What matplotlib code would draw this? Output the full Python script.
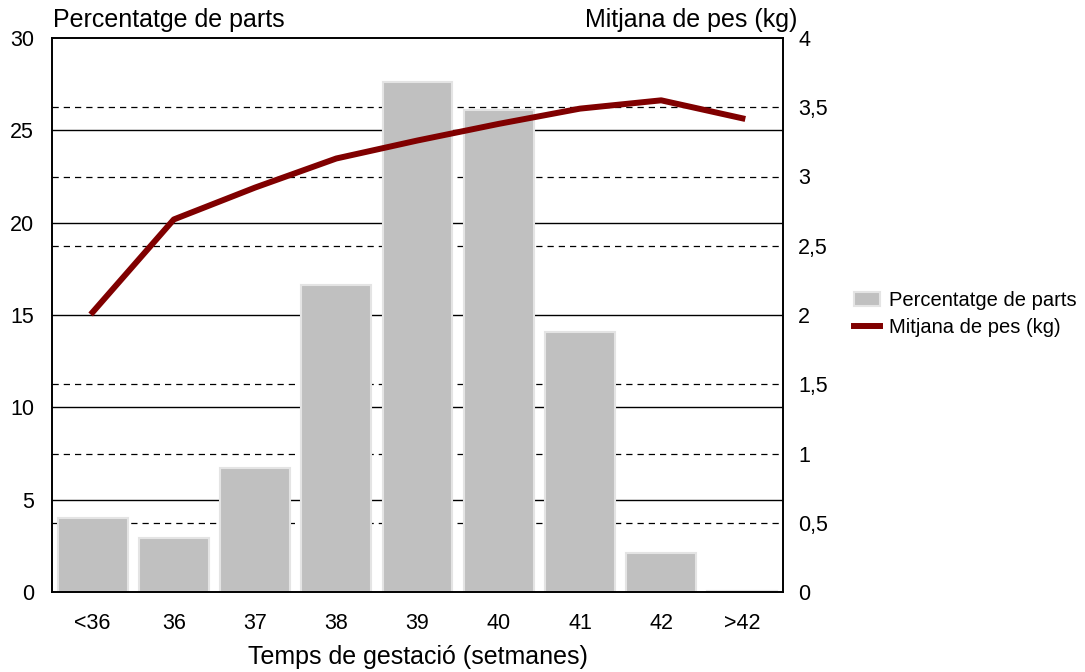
import numpy as np
import matplotlib.pyplot as plt

plt.rcParams['font.family'] = ['Liberation Sans', 'DejaVu Sans']

categories = ["<36", "36", "37", "38", "39", "40", "41", "42", ">42"]
parts_pct = [4.0, 2.9, 6.7, 16.6, 27.6, 26.1, 14.1, 2.1, 0.05]
mean_weight = [2.02, 2.69, 2.92, 3.13, 3.26, 3.38, 3.49, 3.55, 3.42]

fig = plt.figure(figsize=(10.85, 6.72), dpi=100)
ax = fig.add_axes([52 / 1085, 1 - 592 / 672, 731 / 1085, 554 / 672])
ax2 = ax.twinx()

x = np.arange(len(categories))

# grid lines: solid for left axis, dashed for right axis
for v in [5, 10, 15, 20, 25]:
    ax.axhline(v, color='black', lw=1, zorder=0)
for v in [0.5, 1, 1.5, 2.5, 3, 3.5]:
    ax.axhline(v * 7.5, color='black', lw=0.9, ls=(0, (5, 4)), zorder=0)

ax.bar(x, parts_pct, width=0.86, color='#c0c0c0', edgecolor='#e4e4e4',
       linewidth=1.5, zorder=2, label='Percentatge de parts')
ax2.plot(x, mean_weight, color='#800000', lw=4.3, zorder=3,
         label='Mitjana de pes (kg)')

ax.set_xlim(-0.5, len(categories) - 0.5)
ax.set_ylim(0, 30)
ax2.set_ylim(0, 4)
ax.set_xticks(x)
ax.set_xticklabels(categories)
ax.set_yticks([0, 5, 10, 15, 20, 25, 30])
ax2.set_yticks([0, 0.5, 1, 1.5, 2, 2.5, 3, 3.5, 4])
ax2.set_yticklabels(["0", "0,5", "1", "1,5", "2", "2,5", "3", "3,5", "4"])

ax.tick_params(axis='x', length=0, labelsize=15.5, pad=15)
ax.tick_params(axis='y', length=0, labelsize=15.5, pad=13)
ax2.tick_params(axis='y', length=0, labelsize=15.5, pad=11)

for a in (ax, ax2):
    for s in a.spines.values():
        s.set_linewidth(1.2)

ax.set_xlabel("Temps de gestació (setmanes)", fontsize=18, labelpad=8)
fig.text(53 / 1085, 1 - 20 / 672, "Percentatge de parts", fontsize=18,
         va='center', ha='left')
fig.text(797 / 1085, 1 - 20 / 672, "Mitjana de pes (kg)", fontsize=18,
         va='center', ha='right')

h1, l1 = ax.get_legend_handles_labels()
h2, l2 = ax2.get_legend_handles_labels()
fig.legend(h1 + h2, l1 + l2, loc='center left', bbox_to_anchor=(836 / 1085, 1 - 314 / 672),
           frameon=False, fontsize=14.5, handlelength=1.3, handletextpad=0.45,
           labelspacing=0.4)

fig.savefig("out.png", dpi=100)
